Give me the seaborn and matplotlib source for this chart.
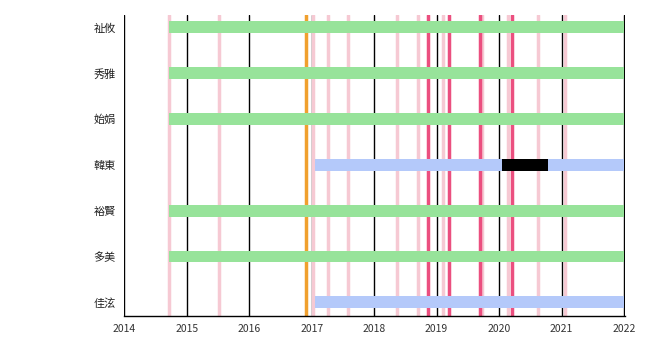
import matplotlib
matplotlib.use("Agg")
import matplotlib.pyplot as plt
import seaborn as sns
import pandas as pd

# Members and their active periods (decimal years)
members = ["祉攸", "秀雅", "始娟", "韓東", "裕賢", "多美", "佳泫"]
starts = [2014.72, 2014.72, 2014.72, 2017.05, 2014.72, 2014.72, 2017.05]
ends = [2022.0, 2022.0, 2022.0, 2022.0, 2022.0, 2022.0, 2022.0]
groups = ["first", "first", "first", "second", "first", "first", "second"]

# Hiatus period
hiatus_member = ["韓東"]
hiatus_start = [2020.04]
hiatus_end = [2020.79]

# Release markers
minor_releases = [2014.72, 2015.51, 2017.03, 2017.27, 2017.59, 2018.36, 2018.71,
                  2019.11, 2019.73, 2020.15, 2020.63, 2021.06]
major_releases = [2018.87, 2019.20, 2019.70, 2020.21]
debut_line = [2016.91]

years = list(range(2014, 2023))

palette = {"first": "#97e39a", "second": "#b4c9fa"}

sns.set_theme(style="white")
plt.rcParams["font.family"] = ["Noto Sans CJK TC", "DejaVu Sans"]

df = pd.DataFrame({"member": members, "start": starts, "end": ends, "group": groups})

fig = plt.figure(figsize=(6.5, 3.5), dpi=100)
ax = fig.add_axes([0.191, 0.097, 0.771, 0.860])

for x in years:
    ax.axvline(x, color="black", lw=1.0, zorder=1)
for x in minor_releases:
    ax.axvline(x, color="#f6c9d3", lw=2.5, zorder=1)
for x in major_releases:
    ax.axvline(x, color="#eb4f7f", lw=2.5, zorder=1)
for x in debut_line:
    ax.axvline(x, color="#f0a02e", lw=2.5, zorder=1)

ypos = {m: i for i, m in enumerate(members)}
ax.barh([ypos[m] for m in df["member"]], df["end"] - df["start"], left=df["start"],
        height=0.26, color=[palette[g] for g in df["group"]], linewidth=0, zorder=3)
ax.barh([ypos[m] for m in hiatus_member],
        [e - s for s, e in zip(hiatus_start, hiatus_end)], left=hiatus_start,
        height=0.26, color="black", linewidth=0, zorder=4)

ax.set_yticks(range(len(members)))
ax.set_yticklabels(members, fontsize=8, color="#222222")
ax.set_xticks(years)
ax.set_xticklabels([str(y) for y in years], fontsize=7.5, color="#333333")
ax.set_xlim(2014, 2022.02)
ax.set_ylim(6.3, -0.27)
ax.tick_params(axis="both", length=0, pad=6)
sns.despine(ax=ax, top=True, right=True)
ax.spines["left"].set_visible(False)
ax.spines["bottom"].set_color("black")
ax.spines["bottom"].set_linewidth(1.0)

fig.savefig("out.png", dpi=100)
